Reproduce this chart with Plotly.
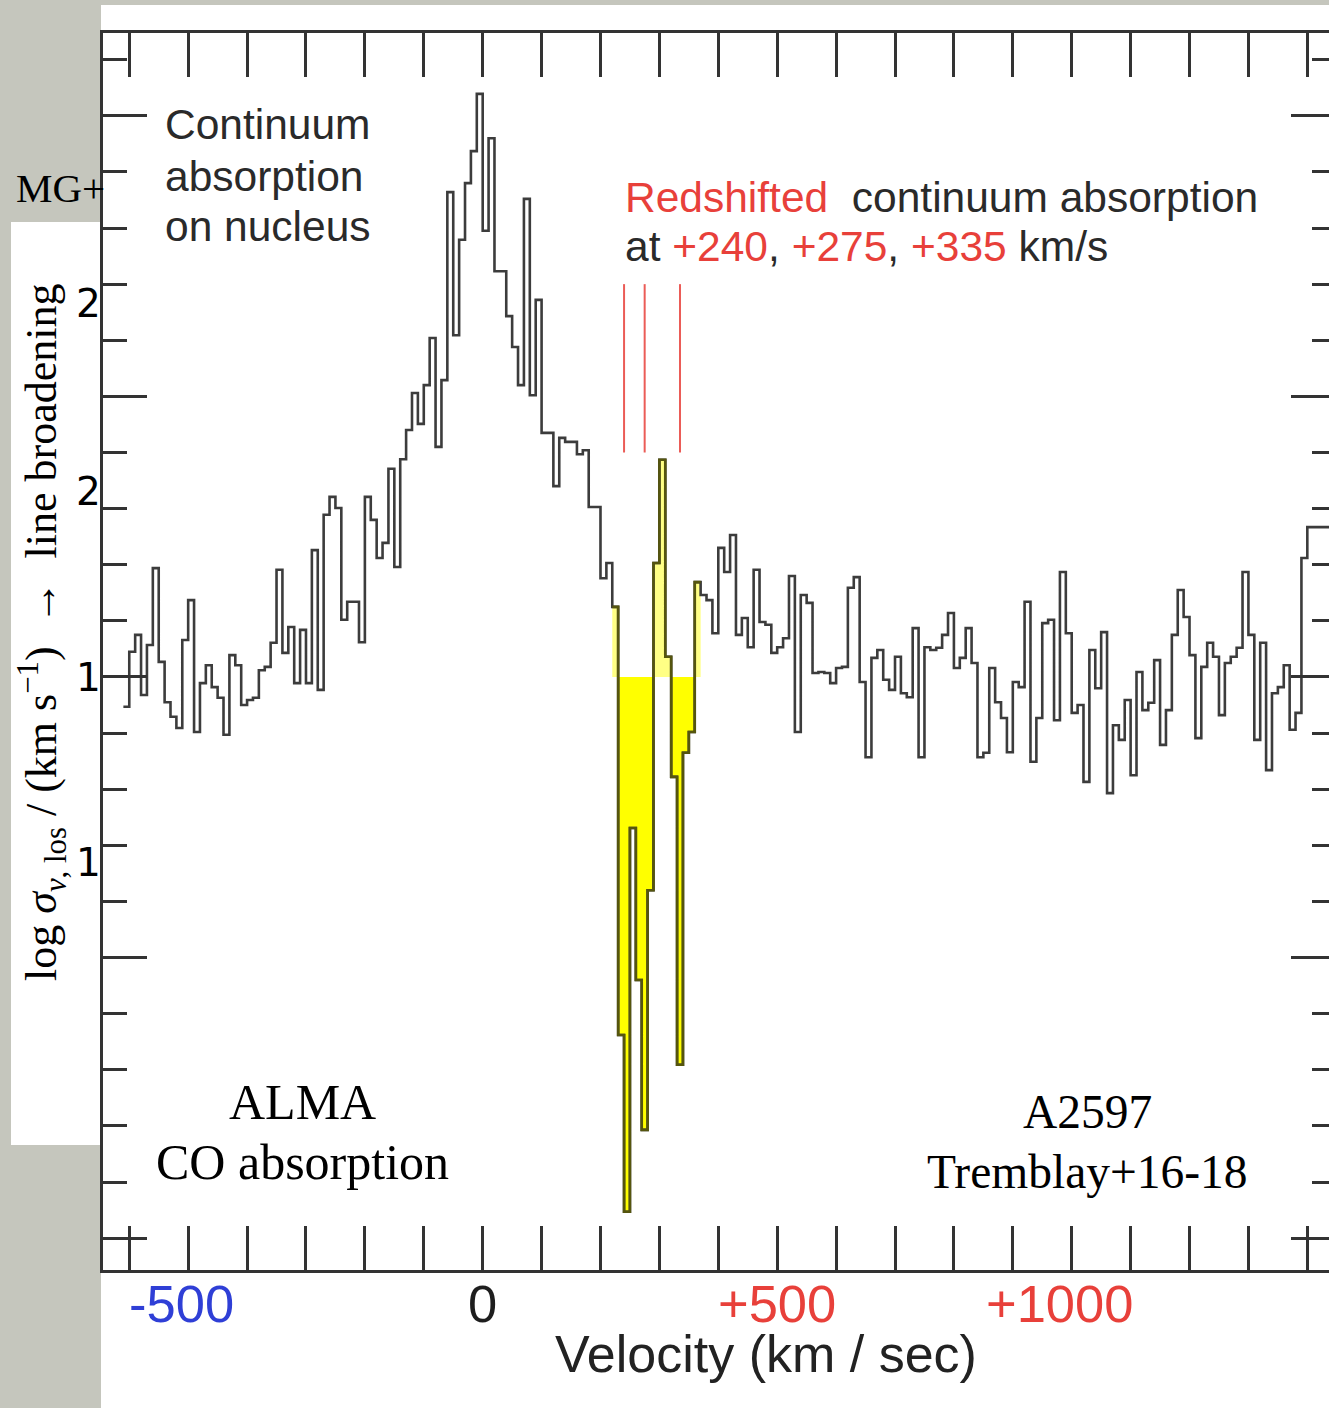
import numpy as np
import plotly.graph_objects as go

# ALMA CO absorption spectrum towards the nucleus of A2597 (10 km/s channels)
channel_width = 10.0          # km/s
velocity_start = -610.0       # left edge of the first channel, km/s

# continuum-subtracted flux density per channel (mJy)
flux = [
    -0.53, 0.45, 0.75, -0.32, 0.57, 1.94, 0.27, -0.45, -0.71, -0.91,
    0.66, 1.37, -0.98, -0.11, 0.21, -0.18, -0.37, -1.03, 0.39, 0.21,
    -0.50, -0.41, -0.37, 0.12, 0.18, 0.61, 1.91, 0.43, 0.89, -0.11,
    0.84, -0.11, 2.26, -0.23, 2.89, 3.21, 3.01, 1.02, 1.34, 1.34,
    0.62, 3.21, 2.80, 2.12, 2.39, 3.71, 1.96, 3.88, 4.40, 5.06,
    4.51, 5.20, 6.04, 4.10, 5.29, 8.64, 6.09, 7.79, 8.80, 9.37,
    10.39, 7.95, 9.60, 7.23, 7.23, 6.43, 5.88, 5.20, 8.52, 5.02,
    6.72, 4.35, 4.35, 3.40, 4.26, 4.19, 4.19, 3.97, 4.04, 3.03,
    3.03, 1.76, 2.03, 1.25, -6.38, -9.53, -2.69, -5.40, -8.07, -3.80,
    2.03, 3.87, 0.36, -1.78, -6.91, -1.35, -0.98, 1.69, 1.46, 1.37,
    0.78, 2.30, 1.87, 2.53, 0.75, 1.05, 0.53, 1.91, 0.98, 0.93,
    0.43, 0.53, 0.69, 1.80, -0.98, 1.46, 1.32, 0.07, 0.09, 0.07,
    -0.11, 0.16, 0.18, 1.59, 1.78, -0.09, -1.43, 0.34, 0.48, -0.05,
    -0.23, 0.36, -0.29, -0.36, 0.87, -1.43, 0.53, 0.48, 0.52, 0.75,
    1.14, 0.16, 0.34, 0.87, 0.25, -1.43, -1.35, 0.16, -0.45, -0.73,
    -1.34, -0.09, -0.18, 1.34, -1.51, -0.73, 0.96, 1.02, -0.77, 1.87,
    0.78, -0.64, -0.50, -1.87, 0.48, -0.20, 0.80, -2.07, -0.86, -1.12,
    -0.41, -1.75, 0.09, -0.59, -0.46, 0.30, -1.21, -0.59, 0.75, 1.55,
    1.07, 0.39, -1.09, 0.18, 0.61, 0.36, -0.68, 0.25, 0.36, 0.52,
    1.87, 0.75, -1.12, 0.61, -1.66, -0.29, -0.18, 0.21, -0.94, -0.64,
    2.12, 2.67, 2.67, 2.67, 2.67,
]

# velocity interval of the redshifted absorption that gets shaded (km/s)
absorption_window = [220.0, 370.0]
# absorber velocities marked above the spectrum (km/s) and the marker span (mJy)
absorber_velocities = [240, 275, 335]
marker_span = [4.0, 7.0]

# bottom-axis labels
xtick_values = [-500, 0, 500, 1000]
xtick_labels = ["-500", "0", "+500", "+1000"]
xtick_colors = ["#2f3fd6", "#1e1e1e", "#e8403a", "#e8403a"]
xtick_nudge = [-7, 0, 0, -12]   # label offsets from their ticks, px

# stray panel labels of the overlaid y axis
side_labels = ["2", "2", "1", "1"]

RED = "#e8403a"
INK = "#2a2a2a"
SANS = "Liberation Sans, Arial, Helvetica, sans-serif"
SERIF = "Liberation Serif, Times New Roman, serif"

W, H = 1329, 1408
ML, MR, MT, MB = 103, 0, 33, 138
X_RANGE = [-644.6, 1436.8]
Y_RANGE = [-10.567, 11.475]


def px(x):
    return (x - ML) / (W - ML - MR)


def py(y):
    return (H - MB - y) / (H - MT - MB)


flux_arr = np.array(flux)
edges = velocity_start + channel_width * np.arange(len(flux_arr) + 1)
step_y = np.append(flux_arr, flux_arr[-1])

left, right = edges[:-1], edges[1:]
win = np.where((left >= absorption_window[0] - 1e-6) & (right <= absorption_window[1] + 1e-6))[0]
win_x = np.append(left[win], right[win[-1]])
win_f = np.append(flux_arr[win], flux_arr[win[-1]])

fig = go.Figure()

# shaded absorption: below continuum bright, above continuum pale
fig.add_trace(go.Scatter(x=win_x, y=np.maximum(win_f, 0), mode="lines", line_shape="hv",
                         line=dict(width=0), fill="tozeroy", fillcolor="#ffff85",
                         hoverinfo="skip"))
fig.add_trace(go.Scatter(x=win_x, y=np.minimum(win_f, 0), mode="lines", line_shape="hv",
                         line=dict(width=0), fill="tozeroy", fillcolor="#ffff00",
                         hoverinfo="skip"))

# the spectrum as a histogram-style step line
fig.add_trace(go.Scatter(x=edges, y=step_y, mode="lines", line_shape="hv",
                         line=dict(color="#3c3c3c", width=2.6), hoverinfo="skip"))
fig.add_trace(go.Scatter(x=win_x, y=win_f, mode="lines", line_shape="hv",
                         line=dict(color="#55550e", width=2.6), hoverinfo="skip"))

# absorber markers
for v in absorber_velocities:
    fig.add_trace(go.Scatter(x=[v, v], y=marker_span, mode="lines",
                             line=dict(color="rgba(232,64,58,0.85)", width=2),
                             hoverinfo="skip"))

# carrier for the right-hand tick axis
fig.add_trace(go.Scatter(x=[X_RANGE[0]], y=[0], yaxis="y2", mode="markers",
                         marker=dict(opacity=0), hoverinfo="skip"))

tick_style = dict(ticks="inside", tickcolor="#333333", tickwidth=2.6)

fig.update_layout(
    width=W, height=H,
    margin=dict(l=ML, r=MR, t=MT, b=MB, pad=0),
    paper_bgcolor="#c5c6bd",
    plot_bgcolor="rgba(0,0,0,0)",
    showlegend=False,
    xaxis=dict(
        range=X_RANGE, showgrid=False, zeroline=False,
        showline=True, linecolor="#333333", linewidth=3, mirror="allticks",
        ticklen=44, tickmode="array", tickvals=xtick_values, showticklabels=False,
        minor=dict(ticks="inside", ticklen=24, tickwidth=2.6, tickcolor="#333333",
                   tickmode="linear", tick0=0, dtick=100),
        **tick_style,
    ),
    yaxis=dict(
        range=Y_RANGE, showgrid=False, zeroline=False,
        showline=True, linecolor="#333333", linewidth=3,
        ticklen=44, tickmode="array", tickvals=[-10, -5, 0, 5, 10], showticklabels=False,
        minor=dict(ticks="inside", ticklen=24, tickwidth=2.6, tickcolor="#333333",
                   tickmode="linear", tick0=0, dtick=1),
        **tick_style,
    ),
    yaxis2=dict(
        range=Y_RANGE, overlaying="y", side="right", showgrid=False, zeroline=False,
        showline=False, ticklen=38, tickmode="array", tickvals=[-10, -5, 0, 5, 10],
        showticklabels=False,
        minor=dict(ticks="inside", ticklen=17, tickwidth=2.6, tickcolor="#333333",
                   tickmode="linear", tick0=0, dtick=1),
        **tick_style,
    ),
)

# white page of the figure and the white label strip on the left
fig.add_shape(type="rect", xref="paper", yref="paper", layer="below",
              x0=px(101), x1=px(W + 5), y0=py(H + 5), y1=py(5),
              fillcolor="white", line=dict(width=0))
fig.add_shape(type="rect", xref="paper", yref="paper", layer="below",
              x0=px(11), x1=px(101), y0=py(1145), y1=py(222),
              fillcolor="white", line=dict(width=0))

ann = []


def text(s, x, y, size, family=SANS, color=INK, xanchor="left", yanchor="middle", **kw):
    ann.append(dict(text=s, x=px(x), y=py(y), xref="paper", yref="paper",
                    xanchor=xanchor, yanchor=yanchor, showarrow=False,
                    font=dict(family=family, size=size, color=color), **kw))


# velocity labels under their ticks
for v, lab, col, dx in zip(xtick_values, xtick_labels, xtick_colors, xtick_nudge):
    ann.append(dict(text=lab, x=v, xref="x", y=py(1303), yref="paper",
                    xanchor="center", yanchor="middle", xshift=dx, showarrow=False,
                    font=dict(family=SANS, size=52.5, color=col)))

for i, line in enumerate(["Continuum", "absorption", "on nucleus"]):
    text(line, 163, 125 + 51 * i, 42.5)

text(f"<span style='color:{RED}'>Redshifted</span>\u00a0 continuum absorption", 623, 197, 42.5)
text(f"at <span style='color:{RED}'>+240</span>, <span style='color:{RED}'>+275</span>, "
     f"<span style='color:{RED}'>+335</span> km/s", 623, 247, 42.5)

text("Velocity (km / sec)", 766, 1354, 52, xanchor="center", color="#222222")

text("ALMA", 302, 1102, 50, family=SERIF, color="black", xanchor="center")
text("CO absorption", 302, 1162, 50, family=SERIF, color="black", xanchor="center")
text("A2597", 1087, 1112, 47.5, family=SERIF, color="black", xanchor="center")
text("Tremblay+16-18", 1087, 1172, 47.5, family=SERIF, color="black", xanchor="center")

text("MG+", 14, 188, 41, family=SERIF, color="black")
text("log <i>σ</i><sub><i>v</i>, los</sub> / (km s<sup>−1</sup>)  →  line broadening",
     42, 632, 44, family=SERIF, color="black", xanchor="center", textangle=-90)
for lab, yy in zip(side_labels, [303, 492, 677, 862]):
    text(lab, 103, yy, 39, family="DejaVu Sans", color="black", xanchor="right")

fig.update_layout(annotations=ann)

fig.write_html("out.html", config={"displayModeBar": False})
